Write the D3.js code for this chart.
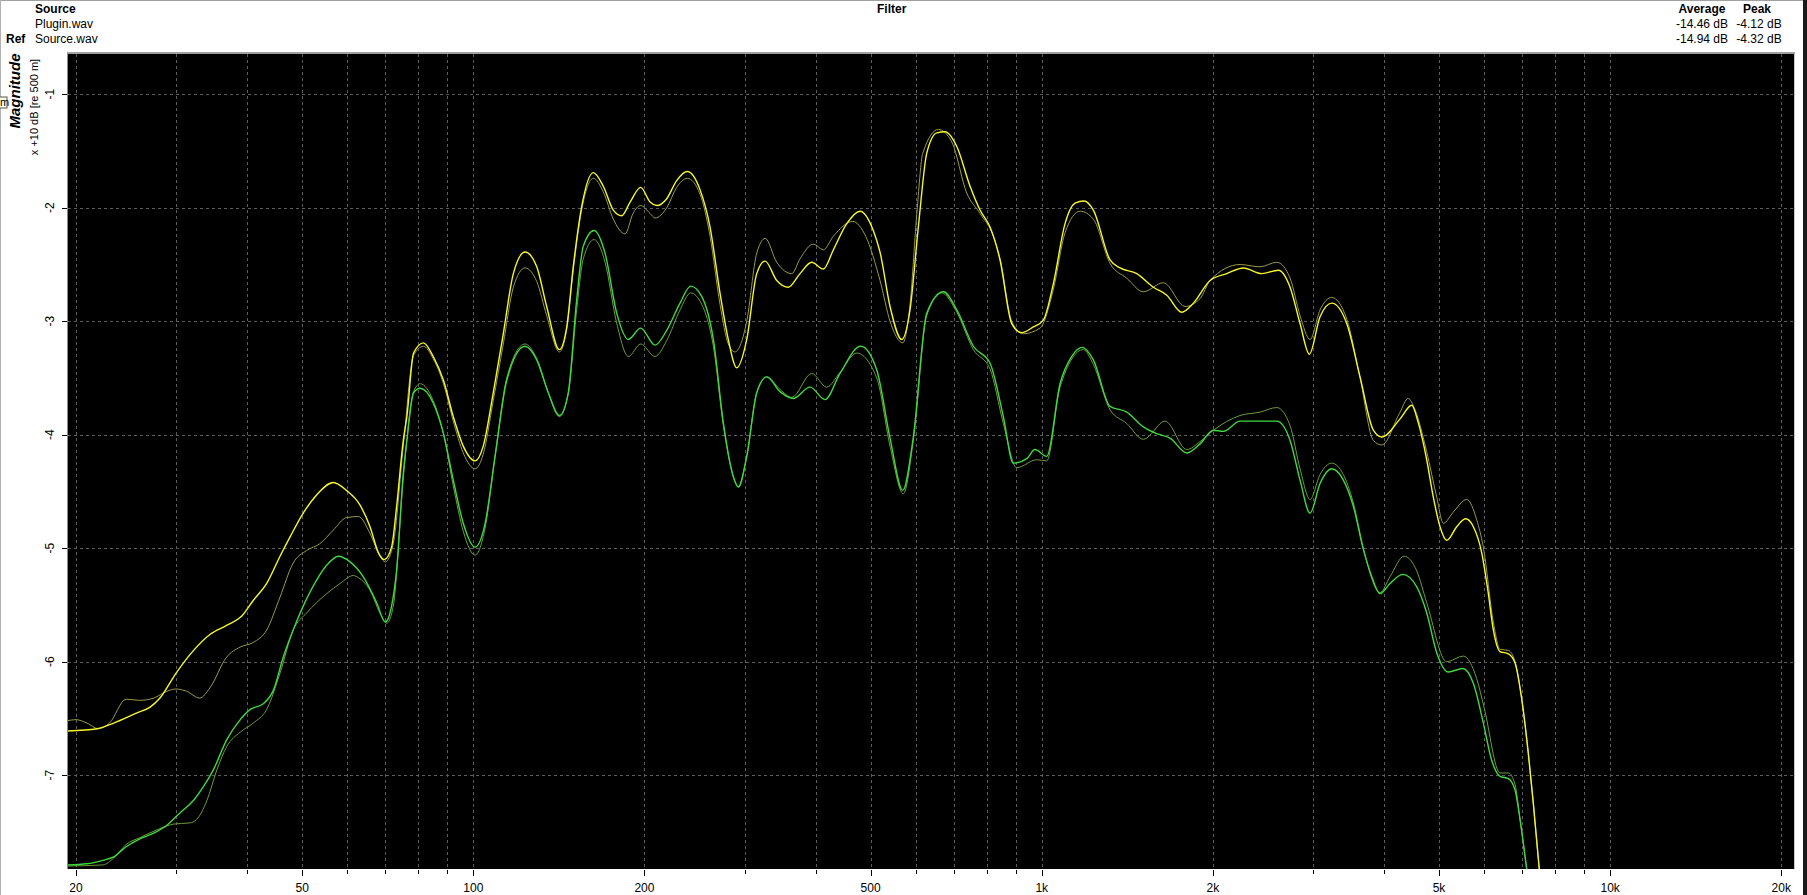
<!DOCTYPE html>
<html><head><meta charset="utf-8">
<script src="https://cdn.jsdelivr.net/npm/d3@7"></script>
<style>html,body{margin:0;padding:0;background:#fff;overflow:hidden}</style>
</head><body>
<svg id="c" width="1807" height="895"></svg>
<script>
// ---------- data ----------
const xTickValues = [20, 50, 100, 200, 500, 1000, 2000, 5000, 10000, 20000];
const xTickLabels = ["20", "50", "100", "200", "500", "1k", "2k", "5k", "10k", "20k"];
const yTickValues = [-1, -2, -3, -4, -5, -6, -7];
const yTickLabels = ["-1", "-2", "-3", "-4", "-5", "-6", "-7"];
const fileNames = ["Plugin.wav", "Source.wav"];
const fileRoles = ["", "Ref"];
const averages = ["-14.46 dB", "-14.94 dB"];
const peaks = ["-4.12 dB", "-4.32 dB"];

// [frequency Hz, magnitude (x10 dB)]
const pluginYellow = [[19.3,-6.61],[21.8,-6.59],[23.3,-6.54],[25.6,-6.45],[27.0,-6.40],[28.1,-6.32],[30.0,-6.10],[32.2,-5.90],[34.4,-5.76],[36.8,-5.68],[39.1,-5.60],[41.0,-5.46],[43.3,-5.31],[45.7,-5.07],[47.6,-4.90],[50.2,-4.69],[53.0,-4.53],[56.7,-4.42],[59.8,-4.49],[63.2,-4.62],[65.8,-4.81],[68.1,-5.04],[69.7,-5.10],[71.8,-4.99],[73.3,-4.63],[75.3,-4.05],[76.4,-3.84],[78.5,-3.28],[81.7,-3.19],[85.0,-3.31],[88.6,-3.52],[92.2,-3.84],[96.0,-4.10],[100.7,-4.23],[104.1,-4.10],[108.4,-3.63],[112.9,-3.11],[117.6,-2.58],[123.3,-2.39],[129.3,-2.52],[134.6,-2.87],[141.7,-3.25],[146.0,-3.05],[149.9,-2.52],[155.1,-1.99],[162.6,-1.69],[169.3,-1.81],[176.3,-2.02],[182.4,-2.07],[188.7,-1.95],[197.0,-1.82],[204.6,-1.95],[210.3,-1.98],[218.9,-1.92],[227.9,-1.76],[237.9,-1.68],[250.5,-1.84],[260.9,-2.17],[271.6,-2.75],[280.9,-3.16],[290.7,-3.41],[302.7,-3.16],[315.2,-2.58],[326.1,-2.47],[341.8,-2.64],[358.3,-2.70],[375.6,-2.58],[393.8,-2.48],[412.9,-2.54],[430.0,-2.37],[453.9,-2.14],[479.0,-2.03],[505.4,-2.20],[519.4,-2.39],[540.9,-2.87],[567.2,-3.16],[586.5,-2.90],[606.6,-2.17],[627.6,-1.52],[653.6,-1.34],[676.0,-1.33],[708.8,-1.46],[748.0,-1.81],[778.9,-2.02],[811.0,-2.17],[844.6,-2.46],[885.5,-3.02],[922.1,-3.10],[966.5,-3.05],[1006.5,-2.99],[1048.1,-2.67],[1099.0,-2.14],[1144.5,-1.96],[1186.9,-1.94],[1232.5,-2.02],[1318.9,-2.46],[1373.4,-2.53],[1469.4,-2.58],[1571.6,-2.70],[1659.7,-2.77],[1763.7,-2.92],[1848.5,-2.84],[1978.0,-2.64],[2116.5,-2.58],[2263.4,-2.53],[2438.6,-2.58],[2608.1,-2.55],[2734.8,-2.70],[2847.3,-3.02],[2956.8,-3.29],[3087.5,-2.96],[3237.5,-2.84],[3440.4,-3.02],[3630.8,-3.49],[3831.8,-3.96],[3964.6,-4.02],[4269.8,-3.86],[4476.2,-3.74],[4600,-3.90],[4756.7,-4.22],[4885.4,-4.55],[5020,-4.81],[5158.3,-4.93],[5371.6,-4.81],[5570.6,-4.74],[5745.1,-4.81],[5944.3,-5.04],[6105.2,-5.40],[6230.1,-5.72],[6401.7,-5.91],[6620.6,-5.93],[6802.9,-6.01],[6990.2,-6.33],[7179.4,-6.81],[7326.4,-7.25],[7505.7,-7.83],[7600,-8.1]];

const sourceYellow = [[19.3,-6.52],[20.0,-6.51],[20.9,-6.54],[21.9,-6.59],[22.9,-6.54],[24.5,-6.33],[25.9,-6.34],[27.4,-6.32],[28.9,-6.26],[30.0,-6.24],[31.3,-6.26],[33.0,-6.32],[34.4,-6.23],[36.8,-5.96],[38.9,-5.87],[41.0,-5.83],[43.3,-5.72],[45.7,-5.43],[48.2,-5.13],[50.9,-5.02],[53.7,-4.96],[56.7,-4.84],[59.8,-4.73],[62.8,-4.72],[65.8,-4.87],[68.5,-5.07],[70.0,-5.12],[72.3,-4.96],[75.3,-4.10],[78.5,-3.30],[81.7,-3.22],[85.0,-3.33],[88.6,-3.55],[92.2,-3.88],[96.0,-4.16],[100.7,-4.30],[104.1,-4.17],[108.4,-3.70],[112.9,-3.20],[117.6,-2.70],[123.3,-2.53],[129.3,-2.65],[134.6,-2.95],[141.7,-3.27],[146.0,-3.07],[149.9,-2.55],[155.1,-2.02],[162.6,-1.74],[169.3,-1.86],[176.3,-2.10],[184.9,-2.23],[191.0,-2.05],[197.0,-1.98],[204.6,-2.05],[208.8,-2.09],[218.9,-2.00],[227.9,-1.82],[237.9,-1.74],[250.5,-1.88],[260.9,-2.25],[271.6,-2.85],[280.9,-3.20],[288.6,-3.27],[302.7,-3.00],[315.2,-2.40],[326.1,-2.27],[341.8,-2.48],[363.3,-2.58],[375.6,-2.45],[396.4,-2.32],[412.9,-2.37],[430.0,-2.25],[465.0,-2.12],[490.0,-2.25],[519.4,-2.64],[540.9,-3.00],[569.5,-3.19],[586.5,-2.85],[604.0,-2.00],[617.5,-1.52],[657.9,-1.31],[694.6,-1.42],[738.0,-1.87],[778.9,-2.05],[822.0,-2.25],[844.6,-2.45],[885.5,-3.00],[928.1,-3.11],[993.1,-3.06],[1048.1,-2.72],[1099.0,-2.22],[1167.9,-2.03],[1232.5,-2.10],[1318.9,-2.49],[1411.0,-2.62],[1509.2,-2.74],[1637.0,-2.66],[1787.4,-2.87],[1899.4,-2.80],[1978.0,-2.64],[2233.3,-2.50],[2421.8,-2.52],[2591.3,-2.48],[2734.8,-2.62],[2847.3,-2.95],[2964.9,-3.16],[3087.5,-2.90],[3237.5,-2.79],[3440.4,-2.98],[3630.8,-3.50],[3831.8,-4.05],[3964.6,-4.09],[4269.8,-3.80],[4409.7,-3.68],[4537.4,-3.78],[4756.7,-4.15],[4953.4,-4.55],[5087.5,-4.78],[5300.0,-4.68],[5593.7,-4.57],[5825.0,-4.75],[5982.7,-4.99],[6230.1,-5.65],[6401.7,-5.89],[6620.6,-5.90],[6802.9,-6.00],[6990.2,-6.33],[7179.4,-6.81],[7326.4,-7.25],[7505.7,-7.83],[7600,-8.1]];

const pluginGreen = [[19.3,-7.79],[20.9,-7.78],[22.3,-7.75],[23.3,-7.72],[24.5,-7.63],[25.9,-7.56],[27.4,-7.51],[28.9,-7.44],[30.5,-7.33],[32.2,-7.22],[33.5,-7.10],[34.9,-6.95],[36.8,-6.69],[38.9,-6.51],[40.5,-6.42],[42.7,-6.37],[44.5,-6.25],[46.3,-5.96],[48.2,-5.72],[50.2,-5.51],[53.0,-5.28],[55.2,-5.15],[57.9,-5.07],[60.7,-5.12],[64.0,-5.25],[67.6,-5.48],[70.0,-5.65],[71.8,-5.51],[73.3,-5.19],[75.3,-4.34],[76.4,-4.05],[78.5,-3.63],[80.6,-3.59],[85.0,-3.72],[88.6,-3.99],[92.2,-4.40],[96.0,-4.78],[100.7,-4.99],[104.9,-4.78],[109.2,-4.19],[114.5,-3.52],[123.3,-3.22],[129.3,-3.34],[135.5,-3.63],[141.7,-3.83],[146.9,-3.63],[152.0,-2.81],[156.1,-2.34],[163.1,-2.20],[170.5,-2.40],[178.8,-2.93],[187.4,-3.16],[197.0,-3.06],[208.8,-3.21],[218.9,-3.08],[231.0,-2.84],[241.2,-2.69],[252.2,-2.78],[264.4,-3.16],[275.4,-3.90],[286.7,-4.37],[292.6,-4.46],[302.7,-4.19],[315.2,-3.63],[328.3,-3.49],[346.4,-3.62],[365.6,-3.68],[391.2,-3.58],[415.7,-3.69],[441.7,-3.46],[480.4,-3.22],[512.6,-3.43],[540.9,-4.03],[569.5,-4.49],[594.4,-4.02],[627.6,-2.93],[671.4,-2.74],[708.8,-2.90],[758.1,-3.22],[811.0,-3.37],[855.9,-3.84],[891.3,-4.25],[941.0,-4.21],[973.2,-4.13],[1020.5,-4.19],[1077.0,-3.55],[1129.3,-3.31],[1178.8,-3.23],[1232.5,-3.34],[1318.9,-3.75],[1411.0,-3.80],[1509.2,-3.93],[1593.5,-3.99],[1682.0,-4.03],[1799.8,-4.16],[1899.4,-4.08],[2004.6,-3.96],[2087.5,-3.97],[2233.3,-3.88],[2389.7,-3.88],[2591.3,-3.88],[2734.8,-4.05],[2847.3,-4.40],[2964.9,-4.69],[3087.5,-4.43],[3237.5,-4.30],[3393.2,-4.40],[3533.6,-4.63],[3679.6,-5.01],[3807.2,-5.25],[3937.3,-5.40],[4100.2,-5.31],[4316.3,-5.23],[4568.8,-5.34],[4756.7,-5.57],[4953.4,-5.92],[5191.7,-6.09],[5504.3,-6.06],[5745.1,-6.19],[5982.7,-6.54],[6190.1,-6.87],[6401.7,-7.01],[6620.6,-7.03],[6802.9,-7.13],[6942.1,-7.39],[7133.3,-7.83],[7250,-8.1]];

const sourceGreen = [[19.3,-7.80],[22.3,-7.79],[23.3,-7.73],[24.5,-7.61],[25.9,-7.55],[28.1,-7.47],[29.7,-7.43],[31.7,-7.42],[32.6,-7.39],[34.0,-7.22],[35.4,-6.95],[36.8,-6.75],[38.9,-6.62],[41.0,-6.54],[43.3,-6.42],[45.7,-6.10],[48.2,-5.72],[50.9,-5.57],[55.2,-5.40],[58.3,-5.31],[61.5,-5.24],[62.8,-5.26],[65.8,-5.37],[68.5,-5.57],[70.4,-5.66],[72.3,-5.51],[75.3,-4.38],[78.5,-3.62],[80.6,-3.55],[85.0,-3.70],[88.6,-3.99],[92.2,-4.45],[96.0,-4.85],[100.7,-5.06],[104.9,-4.82],[109.2,-4.19],[114.5,-3.50],[123.3,-3.20],[129.3,-3.33],[135.5,-3.63],[141.7,-3.84],[146.9,-3.64],[152.0,-2.90],[156.1,-2.45],[163.1,-2.28],[170.5,-2.48],[178.8,-3.02],[187.4,-3.31],[197.0,-3.20],[208.8,-3.31],[218.9,-3.17],[231.0,-2.90],[241.2,-2.75],[252.2,-2.85],[264.4,-3.22],[275.4,-3.92],[286.7,-4.37],[292.6,-4.46],[302.7,-4.19],[315.2,-3.63],[328.3,-3.49],[346.4,-3.60],[363.3,-3.67],[393.8,-3.46],[418.5,-3.58],[441.7,-3.45],[472.6,-3.28],[512.6,-3.50],[540.9,-4.10],[570.8,-4.52],[594.4,-4.05],[627.6,-2.95],[667.0,-2.75],[708.8,-2.92],[758.1,-3.25],[811.0,-3.42],[855.9,-3.90],[903.6,-4.29],[979.9,-4.22],[1020.5,-4.23],[1077.0,-3.58],[1183.6,-3.25],[1232.5,-3.38],[1318.9,-3.78],[1411.0,-3.90],[1509.2,-4.04],[1648.3,-3.88],[1799.8,-4.13],[1899.4,-4.06],[2004.6,-3.96],[2233.3,-3.83],[2421.8,-3.80],[2591.3,-3.76],[2734.8,-3.92],[2847.3,-4.30],[2964.9,-4.57],[3087.5,-4.35],[3237.5,-4.25],[3393.2,-4.35],[3533.6,-4.60],[3679.6,-5.00],[3937.3,-5.39],[4100.2,-5.25],[4339.2,-5.07],[4568.8,-5.20],[4756.7,-5.48],[5158.3,-6.00],[5517.0,-5.95],[5825.0,-6.15],[6000.0,-6.40],[6401.7,-6.98],[6620.6,-6.98],[6802.9,-7.08],[6942.1,-7.39],[7133.3,-7.83],[7250,-8.1]];

const seriesList = [
  {name: "Source.wav (green)", data: sourceGreen, color: "#6c9c3a", width: 1},
  {name: "Source.wav (yellow)", data: sourceYellow, color: "#9a9a46", width: 1},
  {name: "Plugin.wav (green)", data: pluginGreen, color: "#3fd93f", width: 1.4},
  {name: "Plugin.wav (yellow)", data: pluginYellow, color: "#f6f62c", width: 1.4}
];

// ---------- layout ----------
const W = 1807, H = 895;
const P = {l: 68, r: 1794, t: 54, b: 869};
const FONT = "'Liberation Sans', Arial, sans-serif";

const svg = d3.select("#c");
const x = d3.scaleLog().domain([19.36, 21060]).range([P.l, P.r]);
const y = d3.scaleLinear().domain([-7.826, -0.645]).range([P.b, P.t]);

svg.append("rect").attr("width", W).attr("height", H).attr("fill", "#fff");
// outer frame
svg.append("line").attr("x1", 0).attr("x2", W).attr("y1", 0.5).attr("y2", 0.5).attr("stroke", "#a0a0a0");
svg.append("line").attr("x1", 0.5).attr("x2", 0.5).attr("y1", 0).attr("y2", H).attr("stroke", "#b0b0b0");
svg.append("rect").attr("x", 1803).attr("y", 0).attr("width", 4).attr("height", H).attr("fill", "#1a1a1a");

// header
const hdr = svg.append("g").attr("font-family", FONT).attr("font-size", 12).attr("fill", "#000");
hdr.append("text").attr("x", 35).attr("y", 13).attr("font-weight", "bold").text("Source");
fileNames.forEach((f, i) => {
  hdr.append("text").attr("x", 35).attr("y", 28 + i * 15).text(f);
  if (fileRoles[i]) hdr.append("text").attr("x", 6).attr("y", 28 + i * 15).attr("font-weight", "bold").text(fileRoles[i]);
});
hdr.append("text").attr("x", 877).attr("y", 13).attr("font-weight", "bold").text("Filter");
hdr.append("text").attr("x", 1702).attr("y", 13).attr("text-anchor", "middle").attr("font-weight", "bold").text("Average");
hdr.append("text").attr("x", 1757).attr("y", 13).attr("text-anchor", "middle").attr("font-weight", "bold").text("Peak");
averages.forEach((a, i) => hdr.append("text").attr("x", 1702).attr("y", 28 + i * 15).attr("text-anchor", "middle").text(a));
peaks.forEach((p, i) => hdr.append("text").attr("x", 1759).attr("y", 28 + i * 15).attr("text-anchor", "middle").text(p));

// plot background
svg.append("rect").attr("x", P.l).attr("y", P.t).attr("width", P.r - P.l).attr("height", P.b - P.t).attr("fill", "#000");
svg.append("line").attr("x1", P.l - 1).attr("x2", P.r + 1).attr("y1", P.t - 1).attr("y2", P.t - 1).attr("stroke", "#a0a0a0").attr("stroke-width", 2);
svg.append("line").attr("x1", P.l - 0.5).attr("x2", P.l - 0.5).attr("y1", P.t).attr("y2", P.b).attr("stroke", "#8a8a8a");
svg.append("line").attr("x1", P.r + 0.5).attr("x2", P.r + 0.5).attr("y1", P.t).attr("y2", P.b).attr("stroke", "#c8c8c8");

// grid
const gridF = [];
[10, 100, 1000, 10000].forEach(d => { for (let m = 1; m <= 9; m++) { const f = m * d; if (f >= 20 && f <= 20000) gridF.push(f); } });
const grid = svg.append("g").attr("stroke", "#5c5c5c").attr("stroke-width", 1).attr("stroke-dasharray", "3,3");
grid.selectAll("line.v").data(gridF).join("line").attr("class", "v")
  .attr("x1", d => Math.round(x(d)) + 0.5).attr("x2", d => Math.round(x(d)) + 0.5)
  .attr("y1", P.t).attr("y2", P.b);
grid.selectAll("line.h").data(yTickValues).join("line").attr("class", "h")
  .attr("x1", P.l).attr("x2", P.r)
  .attr("y1", d => Math.round(y(d)) + 0.5).attr("y2", d => Math.round(y(d)) + 0.5);

// x axis ticks
const xa = svg.append("g");
xa.selectAll("line").data(gridF).join("line")
  .attr("x1", d => Math.round(x(d)) + 0.5).attr("x2", d => Math.round(x(d)) + 0.5)
  .attr("y1", P.b + 1).attr("y2", d => xTickValues.includes(d) ? P.b + 7 : P.b + 5)
  .attr("stroke", "#000");
xa.selectAll("text").data(xTickValues).join("text")
  .attr("x", d => x(d)).attr("y", 892).attr("text-anchor", "middle")
  .attr("font-family", FONT).attr("font-size", 12).attr("fill", "#000")
  .text((d, i) => xTickLabels[i]);

// y axis ticks
const ya = svg.append("g");
ya.selectAll("line").data(yTickValues).join("line")
  .attr("x1", 62).attr("x2", P.l - 1)
  .attr("y1", d => Math.round(y(d)) + 0.5).attr("y2", d => Math.round(y(d)) + 0.5)
  .attr("stroke", "#000");
ya.selectAll("text").data(yTickValues).join("text")
  .attr("transform", d => `translate(54,${y(d)}) rotate(-90)`)
  .attr("text-anchor", "middle")
  .attr("font-family", FONT).attr("font-size", 12).attr("fill", "#000")
  .text((d, i) => yTickLabels[i]);

// y axis title
svg.append("text").attr("transform", "translate(20,91) rotate(-90)").attr("text-anchor", "middle")
  .attr("font-family", FONT).attr("font-size", 15).attr("font-weight", "bold").attr("font-style", "italic")
  .attr("fill", "#000").text("Magnitude");
svg.append("text").attr("transform", "translate(38,107) rotate(-90)").attr("text-anchor", "middle")
  .attr("font-family", FONT).attr("font-size", 11).attr("fill", "#000").text("x +10 dB [re 500 m]");
// small clipped tooltip at left edge
svg.append("rect").attr("x", -20).attr("y", 97).attr("width", 27).attr("height", 11)
  .attr("fill", "#ffffe1").attr("stroke", "#555");
svg.append("text").attr("x", 0).attr("y", 106).attr("font-family", FONT).attr("font-size", 11).attr("fill", "#000").text("m");

// curves
svg.append("clipPath").attr("id", "clip").append("rect")
  .attr("x", P.l).attr("y", P.t).attr("width", P.r - P.l).attr("height", P.b - P.t);
const line = d3.line().x(d => x(d[0])).y(d => y(d[1])).curve(d3.curveMonotoneX);
const cg = svg.append("g").attr("clip-path", "url(#clip)");
seriesList.forEach(s => {
  cg.append("path").datum(s.data).attr("d", line)
    .attr("fill", "none").attr("stroke", s.color).attr("stroke-width", s.width)
    .attr("stroke-linejoin", "round");
});
</script>
</body></html>
